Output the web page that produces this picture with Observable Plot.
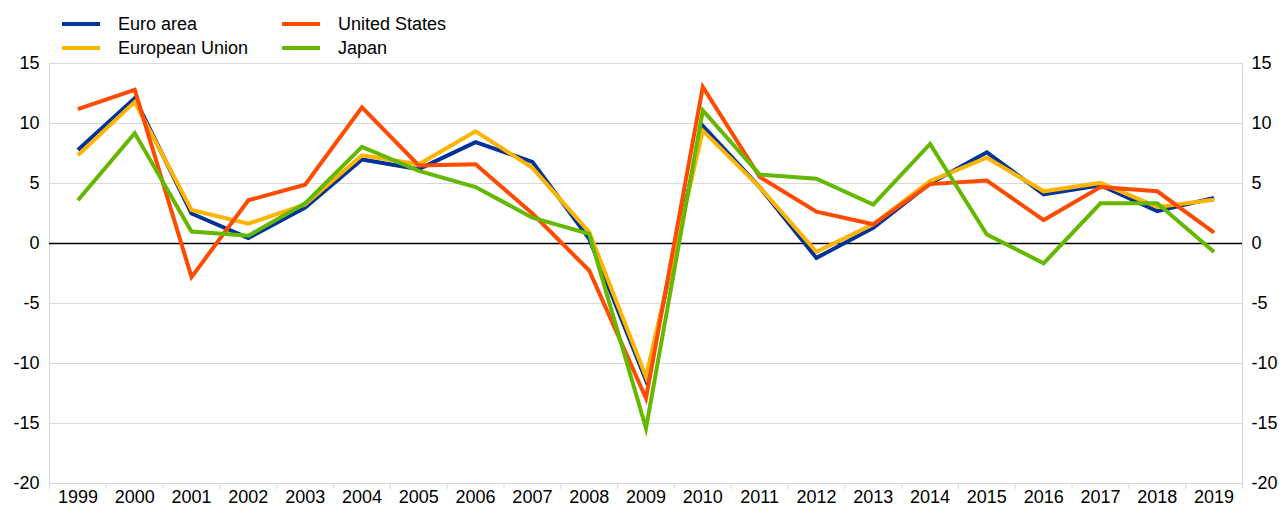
<!DOCTYPE html>
<html>
<head>
<meta charset="utf-8">
<script src="https://cdn.jsdelivr.net/npm/d3@7"></script>
<script src="https://cdn.jsdelivr.net/npm/@observablehq/plot@0.6"></script>
<style>
  html, body { margin: 0; padding: 0; background: #fff; }
  body { width: 1281px; height: 505px; overflow: hidden; font-family: "Liberation Sans", Arial, sans-serif; }
  #legend { position: relative; height: 52px; font-size: 18px; color: #000; }
  .item { position: absolute; display: flex; align-items: center; height: 20px; }
  .sw { width: 38px; height: 4px; margin-right: 18px; }
</style>
</head>
<body>
<div id="legend"></div>
<div id="chart"></div>
<script>
const years = [1999,2000,2001,2002,2003,2004,2005,2006,2007,2008,2009,2010,2011,2012,2013,2014,2015,2016,2017,2018,2019];
const euroArea = [7.8, 12.1, 2.5, 0.45, 3.0, 7.0, 6.2, 8.45, 6.8, 0.4, -11.4, 9.8, 4.7, -1.2, 1.3, 5.0, 7.6, 4.1, 4.85, 2.7, 3.8];
const europeanUnion = [7.35, 11.8, 2.8, 1.65, 3.25, 7.35, 6.6, 9.35, 6.3, 0.95, -11.1, 9.4, 4.7, -0.7, 1.6, 5.2, 7.15, 4.35, 5.05, 3.05, 3.65];
const unitedStates = [11.2, 12.8, -2.8, 3.6, 4.9, 11.35, 6.5, 6.6, 2.5, -2.25, -12.9, 13.05, 5.55, 2.65, 1.6, 4.95, 5.25, 1.95, 4.7, 4.35, 0.9];
const japan = [3.6, 9.2, 1.0, 0.65, 3.35, 8.05, 6.05, 4.7, 2.15, 0.8, -15.4, 11.1, 5.75, 5.4, 3.25, 8.3, 0.75, -1.65, 3.35, 3.35, -0.7];
const seriesNames = ["Euro area", "European Union", "United States", "Japan"];
const seriesColors = ["#003399", "#FFB400", "#FF4B00", "#65B800"];
const yTicks = [15, 10, 5, 0, -5, -10, -15, -20];

const seriesValues = [euroArea, europeanUnion, unitedStates, japan];
const data = [];
seriesNames.forEach((name, i) => {
  years.forEach((yr, j) => data.push({series: name, year: yr, value: seriesValues[i][j]}));
});
const boundaries = years.map(y => y - 0.5).concat([years[years.length - 1] + 0.5]);

// legend (two columns, column-major)
const legend = document.getElementById("legend");
const legendPos = [[62, 14], [62, 38], [282, 14], [282, 38]];
seriesNames.forEach((name, i) => {
  const d = document.createElement("div");
  d.className = "item";
  d.style.left = legendPos[i][0] + "px";
  d.style.top = legendPos[i][1] + "px";
  d.innerHTML = `<span class="sw" style="background:${seriesColors[i]}"></span><span>${name}</span>`;
  legend.appendChild(d);
});

const chart = Plot.plot({
  width: 1281,
  height: 453,
  marginLeft: 49,
  marginRight: 39,
  marginTop: 11,
  marginBottom: 22,
  style: {fontFamily: "'Liberation Sans', Arial, sans-serif", fontSize: "18px", color: "#000", background: "#fff", overflow: "visible"},
  x: {type: "linear", domain: [years[0] - 0.5, years[years.length - 1] + 0.5], label: null},
  y: {domain: [-20, 15], label: null},
  color: {domain: seriesNames, range: seriesColors},
  marks: [
    Plot.gridY(yTicks.filter(t => t !== 0), {stroke: "#d9d9d9", strokeOpacity: 1, strokeWidth: 1}),
    Plot.ruleX([boundaries[0], boundaries[boundaries.length - 1]], {y1: -20, y2: 15, stroke: "#d9d9d9", strokeWidth: 1}),
    Plot.axisX(boundaries, {tickSize: 6, tickFormat: () => "", stroke: "#d9d9d9", strokeOpacity: 1, label: null}),
    Plot.axisX(years, {tickSize: 0, tickPadding: 7, tickFormat: d => String(d), fill: "#000", fontSize: 18, label: null}),
    Plot.axisY(yTicks, {anchor: "left", tickSize: 0, tickPadding: 10, tickFormat: d => String(d), fill: "#000", fontSize: 18, label: null}),
    Plot.axisY(yTicks, {anchor: "right", tickSize: 0, tickPadding: 9, tickFormat: d => String(d), fill: "#000", fontSize: 18, label: null}),
    Plot.ruleY([0], {stroke: "#000", strokeWidth: 1.3}),
    Plot.lineY(data, {x: "year", y: "value", z: "series", stroke: "series", strokeWidth: 4, strokeLinejoin: "miter", strokeLinecap: "butt", strokeMiterlimit: 10})
  ]
});
document.getElementById("chart").appendChild(chart);
</script>
</body>
</html>
